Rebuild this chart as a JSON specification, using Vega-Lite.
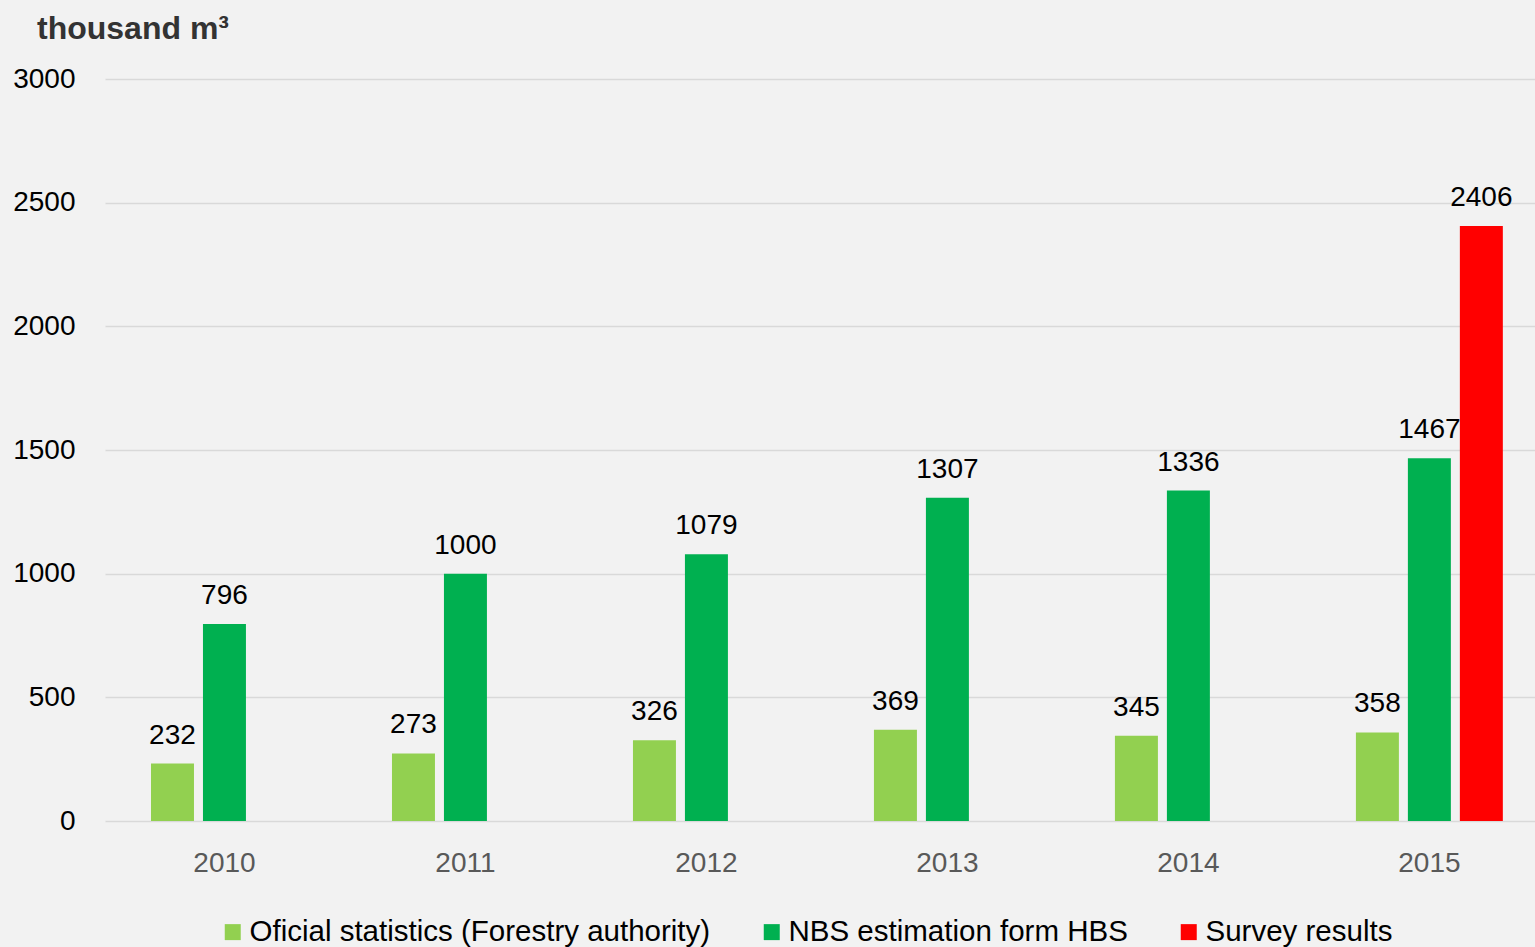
{
  "$schema": "https://vega.github.io/schema/vega-lite/v6.json",
  "width": 1430,
  "height": 742,
  "autosize": {"type": "none"},
  "padding": {"left": 105, "top": 79, "right": 0, "bottom": 126},
  "background": "#f2f2f2",
  "title": {
    "text": "thousand m³",
    "anchor": "start",
    "frame": "group",
    "dx": -68,
    "offset": 19,
    "fontSize": 32,
    "fontWeight": "bold",
    "font": "Liberation Sans",
    "color": "#333333"
  },
  "config": {
    "view": {"stroke": null},
    "font": "Liberation Sans"
  },
  "data": {
    "values": [
      {"year": "2010", "series": "Oficial statistics (Forestry authority)", "value": 232},
      {"year": "2010", "series": "NBS estimation form HBS", "value": 796},
      {"year": "2011", "series": "Oficial statistics (Forestry authority)", "value": 273},
      {"year": "2011", "series": "NBS estimation form HBS", "value": 1000},
      {"year": "2012", "series": "Oficial statistics (Forestry authority)", "value": 326},
      {"year": "2012", "series": "NBS estimation form HBS", "value": 1079},
      {"year": "2013", "series": "Oficial statistics (Forestry authority)", "value": 369},
      {"year": "2013", "series": "NBS estimation form HBS", "value": 1307},
      {"year": "2014", "series": "Oficial statistics (Forestry authority)", "value": 345},
      {"year": "2014", "series": "NBS estimation form HBS", "value": 1336},
      {"year": "2015", "series": "Oficial statistics (Forestry authority)", "value": 358},
      {"year": "2015", "series": "NBS estimation form HBS", "value": 1467},
      {"year": "2015", "series": "Survey results", "value": 2406}
    ]
  },
  "encoding": {
    "x": {
      "field": "year",
      "type": "nominal",
      "scale": {"paddingInner": 0.353, "paddingOuter": 0.1435, "align": 0.6},
      "axis": {
        "title": null,
        "labelAngle": 0,
        "domain": false,
        "ticks": false,
        "labelFontSize": 28,
        "labelColor": "#595959",
        "labelPadding": 28
      }
    },
    "xOffset": {
      "field": "series",
      "type": "nominal",
      "scale": {
        "domain": ["Oficial statistics (Forestry authority)", "NBS estimation form HBS", "Survey results"],
        "paddingInner": 0.173,
        "paddingOuter": 0.0865
      }
    },
    "y": {
      "field": "value",
      "type": "quantitative",
      "scale": {"domain": [0, 3000], "nice": false},
      "axis": {
        "title": null,
        "values": [0, 500, 1000, 1500, 2000, 2500, 3000],
        "format": "d",
        "domain": false,
        "ticks": false,
        "labelFontSize": 28,
        "labelColor": "#000000",
        "labelPadding": 30,
        "gridColor": "#d9d9d9",
        "gridWidth": 1.5
      }
    }
  },
  "layer": [
    {
      "mark": {"type": "bar"},
      "encoding": {
        "color": {
          "field": "series",
          "type": "nominal",
          "scale": {
            "domain": ["Oficial statistics (Forestry authority)", "NBS estimation form HBS", "Survey results"],
            "range": ["#92d050", "#00b050", "#ff0000"]
          },
          "legend": {
            "title": null,
            "orient": "none",
            "direction": "horizontal",
            "legendX": 113,
            "legendY": 838,
            "padding": 0,
            "symbolType": "square",
            "symbolSize": 256,
            "symbolStrokeWidth": 0,
            "symbolOpacity": 1,
            "labelFontSize": 29.5,
            "labelColor": "#000000",
            "labelOffset": 2,
            "labelLimit": 700,
            "columnPadding": 46
          }
        }
      }
    },
    {
      "mark": {"type": "text", "baseline": "bottom", "dy": -14, "fontSize": 28, "color": "#000000"},
      "encoding": {
        "text": {"field": "value", "type": "quantitative"}
      }
    }
  ]
}
